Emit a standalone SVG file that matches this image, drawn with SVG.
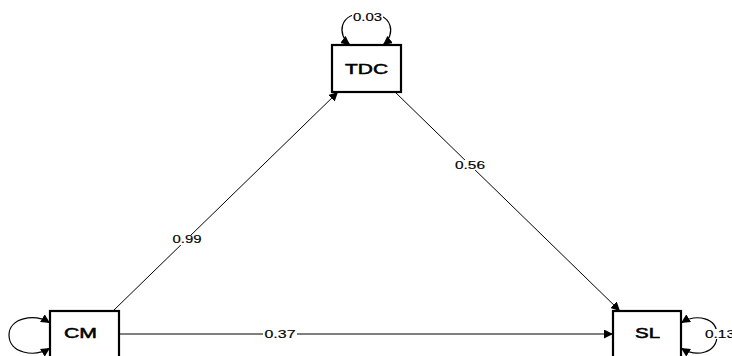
<svg xmlns="http://www.w3.org/2000/svg" width="732" height="356" viewBox="0 0 732 356">
  <style>
    .box { fill: #ffffff; stroke: #000000; stroke-width: 2.2; }
    .name { font-family: "Liberation Sans", Arial, sans-serif; font-size: 14px; text-anchor: middle; fill: #000; stroke: #000; stroke-width: 0.5; }
    .edge { fill: none; stroke: #000000; stroke-width: 1; marker-end: url(#head); }
    .loop { fill: none; stroke: #000000; stroke-width: 1.2; marker-start: url(#headStart); marker-end: url(#head); }
    .coef { font-family: "Liberation Sans", Arial, sans-serif; font-size: 10.5px; text-anchor: middle; fill: #000; stroke: #000; stroke-width: 0.15; }
    .bg { fill: #ffffff; }
  </style>
  <defs>
    <marker id="head" viewBox="0 0 10 10" refX="10" refY="5" markerWidth="9" markerHeight="9" markerUnits="userSpaceOnUse" orient="auto">
      <path d="M0,0 L10,5 L0,10 z" fill="#000"/>
    </marker>
    <marker id="headStart" viewBox="0 0 10 10" refX="0" refY="5" markerWidth="9" markerHeight="9" markerUnits="userSpaceOnUse" orient="auto">
      <path d="M10,0 L0,5 L10,10 z" fill="#000"/>
    </marker>
  </defs>
  <rect width="732" height="356" fill="#ffffff"/>

  <g id="connectors">
    <line class="edge" x1="113" y1="311" x2="338" y2="92"/>
    <line class="edge" x1="395" y1="92" x2="620" y2="311"/>
    <line class="edge" x1="119" y1="334" x2="613" y2="334"/>
    <path class="loop" d="M350,45 C337,35 338,13 366,13 C394,13 396,35 383,45"/>
    <path class="loop" d="M50,323 C34,313 9,318 9,335 C9,353 34,358 50,348"/>
    <path class="loop" d="M681,323 C697,313 717,318 717,335 C717,353 697,358 681,348"/>
    <rect class="bg" x="171" y="235" width="32" height="10"/>
    <text class="coef" x="187" y="243" textLength="29" lengthAdjust="spacingAndGlyphs">0.99</text>
    <rect class="bg" x="454" y="160" width="32" height="10"/>
    <text class="coef" x="470" y="169" textLength="30" lengthAdjust="spacingAndGlyphs">0.56</text>
    <rect class="bg" x="263" y="329" width="34" height="10"/>
    <text class="coef" x="280" y="338" textLength="31" lengthAdjust="spacingAndGlyphs">0.37</text>
    <rect class="bg" x="352" y="12" width="31" height="10"/>
    <text class="coef" x="367.5" y="21" textLength="29" lengthAdjust="spacingAndGlyphs">0.03</text>
    <rect class="bg" x="704" y="329" width="28" height="10"/>
    <text class="coef" x="720" y="338" textLength="30" lengthAdjust="spacingAndGlyphs">0.13</text>
  </g>

  <g id="TDC">
    <rect class="box" x="332" y="45" width="69" height="47"/>
    <text class="name" x="366.5" y="74" textLength="43" lengthAdjust="spacingAndGlyphs">TDC</text>
  </g>
  <g id="CM">
    <rect class="box" x="50" y="311" width="69" height="60"/>
    <text class="name" x="80.5" y="338" textLength="33" lengthAdjust="spacingAndGlyphs">CM</text>
  </g>
  <g id="SL">
    <rect class="box" x="613" y="311" width="68" height="60"/>
    <text class="name" x="647.5" y="338" textLength="25" lengthAdjust="spacingAndGlyphs">SL</text>
  </g>
</svg>
